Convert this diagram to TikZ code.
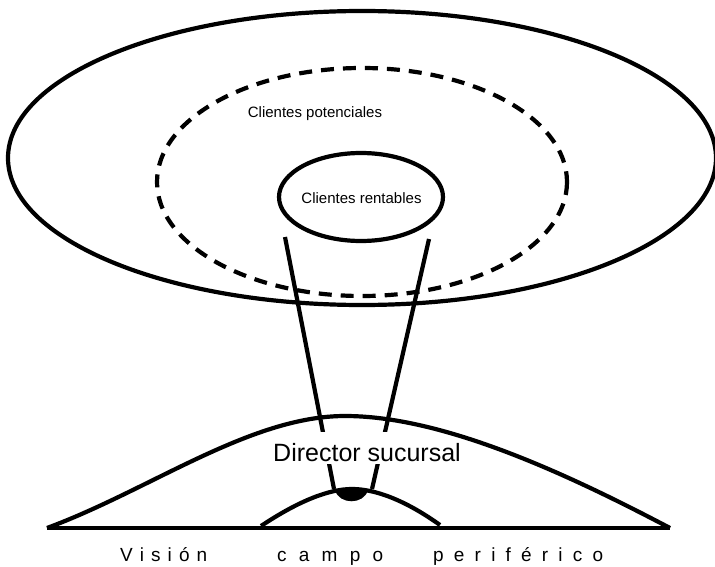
\documentclass[tikz,border=0pt]{standalone}
\usepackage{fontspec}
\setmainfont{Liberation Sans}
% spread the letters of a word evenly over a given width
\newcommand{\spreadword}[2]{\makebox[#1][s]{#2}}
\begin{document}
\begin{tikzpicture}[x=1pt,y=-1pt,
  thick line/.style={line width=4.2pt},
  ring/.style={thick line, draw=black},
  dashring/.style={thick line, draw=black, dash pattern=on 13pt off 9pt},
  label small/.style={font=\fontsize{15pt}{18pt}\selectfont, inner sep=0pt, anchor=base},
  label big/.style={font=\fontsize{25pt}{30pt}\selectfont, inner xsep=2pt, inner ysep=0pt,
    text height=29pt, text depth=3pt, fill=white, anchor=base},
  label bottom/.style={font=\fontsize{19pt}{23pt}\selectfont, inner sep=0pt, anchor=base west}]
\useasboundingbox (0,0) rectangle (715,567);

% client circles
\draw[ring] (362,158) ellipse [x radius=354, y radius=147];
\draw[dashring] (362,182) ellipse [x radius=205, y radius=114];
\draw[ring] (361,197) ellipse [x radius=82, y radius=44];

\node[label small] (pot) at (315,118) {Clientes potenciales};
\node[label small] (rent) at (361.5,203) {Clientes rentables};

% line of sight
\coordinate (lt) at (285,237);
\coordinate (rt) at (429,239);
\coordinate (lb) at (334,489);
\coordinate (rb) at (372,489);
\draw[thick line] (lt) -- (lb);
\draw[thick line] (rt) -- (rb);

\node[label big] (dir) at (367,461) {Director sucursal};

% peripheral field
\coordinate (hl) at (47,528);
\coordinate (hr) at (670,528);
\coordinate (top) at (345,416);
\draw[thick line, line join=round] (hl) .. controls (150,490) and (250,416) .. (top)
  .. controls (440,416) and (560,470) .. (hr);
\draw[thick line] (hl) -- (hr);

% eye
\coordinate (el) at (261,526);
\coordinate (er) at (440,525);
\coordinate (eye) at (352,489);
\draw[thick line] (el) .. controls (300,500) and (330,489) .. (eye)
  .. controls (375,489) and (405,500) .. (er);
\fill (335,490) .. controls (339,505) and (364,505) .. (368,490) -- cycle;

\node[label bottom] (w1) at (120,561) {\spreadword{87pt}{V\hfill i\hfill s\hfill i\hfill ó\hfill n}};
\node[label bottom] (w2) at (277,561) {\spreadword{106pt}{c\hfill a\hfill m\hfill p\hfill o}};
\node[label bottom] (w3) at (433,561) {\spreadword{170pt}{p\hfill e\hfill r\hfill i\hfill f\hfill é\hfill r\hfill i\hfill c\hfill o}};
\end{tikzpicture}
\end{document}
